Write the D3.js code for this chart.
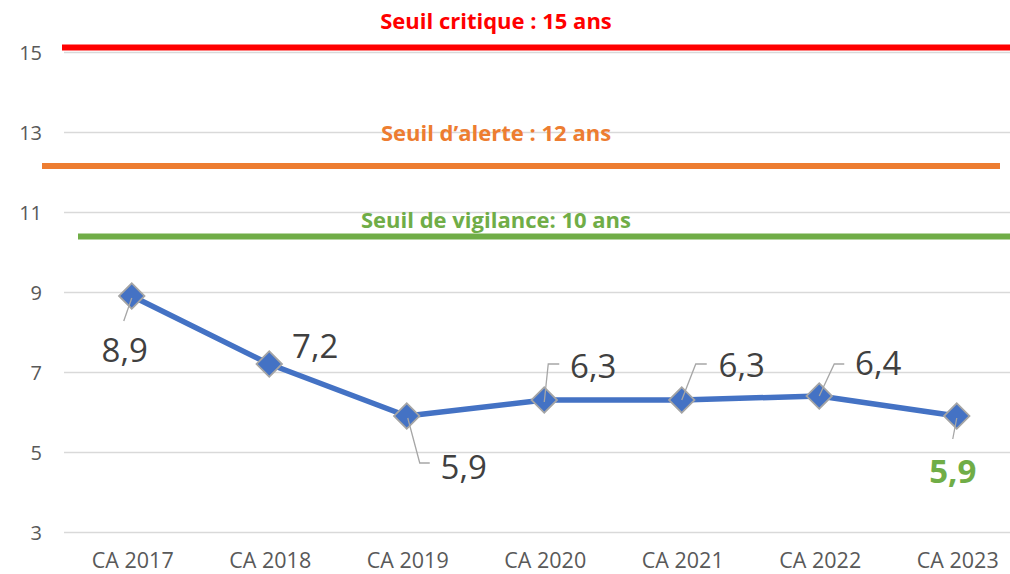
<!DOCTYPE html>
<html>
<head>
<meta charset="utf-8">
<script src="https://cdn.jsdelivr.net/npm/d3@7"></script>
<style>
  html, body { margin: 0; padding: 0; background: #fff; overflow: hidden; }
  text { font-family: "Open Sans", "Noto Sans", sans-serif; }
</style>
</head>
<body>
<script>
// data
var categories = ["CA 2017", "CA 2018", "CA 2019", "CA 2020", "CA 2021", "CA 2022", "CA 2023"];
var values = [8.9, 7.2, 5.9, 6.3, 6.3, 6.4, 5.9];
var yTicks = [3, 5, 7, 9, 11, 13, 15];

var thresholdNames = ["Seuil critique : 15 ans", "Seuil d\u2019alerte : 12 ans", "Seuil de vigilance: 10 ans"];
var thresholdLevels = [15.11, 12.15, 10.39];   // where the bars sit on the y scale
var thresholdColors = ["#FF0000", "#ED7D31", "#70AD47"];

var width = 1010;
var height = 574;

// scales
var x = d3.scaleBand()
    .domain(categories)
    .range([63, 1025.5]);

var y = d3.scaleLinear()
    .domain([3, 15])
    .range([532, 52]);

function cx(d, i) { return x(categories[i]) + x.bandwidth() / 2; }

var svg = d3.select("body")
    .append("svg")
    .attr("width", width)
    .attr("height", height);

// gridlines
var yAxis = d3.axisLeft(y)
    .tickValues(yTicks)
    .tickSize(-(1025.5 - 64))
    .tickPadding(22)
    .tickFormat(d3.format("d"));

var gy = svg.append("g")
    .attr("transform", "translate(64,0)")
    .call(yAxis);
gy.select(".domain").remove();
gy.selectAll(".tick line")
    .attr("stroke", "#D9D9D9")
    .attr("stroke-width", 1.3);
gy.selectAll(".tick text")
    .attr("fill", "#595959")
    .style("font-size", "20px")
    .attr("dy", "0.36em");

// x axis labels
var xAxis = d3.axisBottom(x).tickSize(0).tickPadding(0);
var gx = svg.append("g")
    .attr("transform", "translate(0,532)")
    .call(xAxis);
gx.select(".domain").remove();
gx.selectAll(".tick text")
    .attr("fill", "#595959")
    .style("font-size", "21.5px")
    .attr("y", 36)
    .attr("dy", 0)
    .attr("dx", 1);

// threshold bars (hand drawn shapes in the original, so their extents are layout)
var thresholdX = [[62, 1010], [42, 1000], [78, 1010]];
var titleBaselines = [29, 141, 228];

svg.selectAll("line.seuil")
    .data(thresholdLevels)
    .enter()
    .append("line")
    .attr("class", "seuil")
    .attr("x1", function(d, i) { return thresholdX[i][0]; })
    .attr("x2", function(d, i) { return thresholdX[i][1]; })
    .attr("y1", function(d) { return y(d); })
    .attr("y2", function(d) { return y(d); })
    .attr("stroke", function(d, i) { return thresholdColors[i]; })
    .attr("stroke-width", 6);

svg.selectAll("text.seuil")
    .data(thresholdNames)
    .enter()
    .append("text")
    .attr("class", "seuil")
    .attr("x", 496)
    .attr("y", function(d, i) { return titleBaselines[i]; })
    .attr("text-anchor", "middle")
    .attr("fill", function(d, i) { return thresholdColors[i]; })
    .style("font-size", "22px")
    .style("font-weight", "bold")
    .text(function(d) { return d; });

// offsets of each label (centre x, baseline y) from its point, in px
var labelOffsets = [[-7, 66], [46, -6], [57, 63], [49, -22], [60, -23], [59, -21], [-4, 67]];
// leader paths as point lists relative to the data point; null = no leader
var leaders = [
  [[0, 2], [-8, 25]],
  null,
  [[1, 2], [13, 47], [23, 47]],
  [[0, 2], [4, -36], [15, -36]],
  [[0, 0], [14, -36], [25, -36]],
  [[0, 0], [15, -32], [25, -32]],
  [[0, 2], [-4, 23]]
];

var leaderLine = d3.line();
var withLeader = values.map(function(v, i) { return { v: v, i: i }; })
    .filter(function(d) { return leaders[d.i]; });

// the series line
var line = d3.line()
    .x(function(d, i) { return cx(d, i); })
    .y(function(d) { return y(d); });

svg.append("path")
    .datum(values)
    .attr("fill", "none")
    .attr("stroke", "#4472C4")
    .attr("stroke-width", 5.5)
    .attr("stroke-linejoin", "round")
    .attr("d", line);

// diamond markers
svg.selectAll("rect.marker")
    .data(values)
    .enter()
    .append("rect")
    .attr("class", "marker")
    .attr("x", -9)
    .attr("y", -9)
    .attr("width", 18)
    .attr("height", 18)
    .attr("transform", function(d, i) { return "translate(" + cx(d, i) + "," + y(d) + ") rotate(45)"; })
    .attr("fill", "#4472C4")
    .attr("stroke", "#A5A5A5")
    .attr("stroke-width", 1.8);

// leader lines on top of the markers
svg.selectAll("path.leader")
    .data(withLeader)
    .enter()
    .append("path")
    .attr("class", "leader")
    .attr("fill", "none")
    .attr("stroke", "#A6A6A6")
    .attr("stroke-width", 1.3)
    .attr("d", function(d) {
      var px = cx(d.v, d.i), py = y(d.v);
      return leaderLine(leaders[d.i].map(function(p) { return [px + p[0], py + p[1]]; }));
    });

// data labels
var fmt = function(v) { return d3.format(".1f")(v).replace(".", ","); };
svg.selectAll("text.val")
    .data(values)
    .enter()
    .append("text")
    .attr("class", "val")
    .attr("x", function(d, i) { return cx(d, i) + labelOffsets[i][0]; })
    .attr("y", function(d, i) { return y(d) + labelOffsets[i][1]; })
    .attr("text-anchor", "middle")
    .attr("fill", function(d, i) { return i === values.length - 1 ? "#70AD47" : "#404040"; })
    .style("font-size", "33px")
    .style("font-weight", function(d, i) { return i === values.length - 1 ? "bold" : "normal"; })
    .text(fmt);
</script>
</body>
</html>
